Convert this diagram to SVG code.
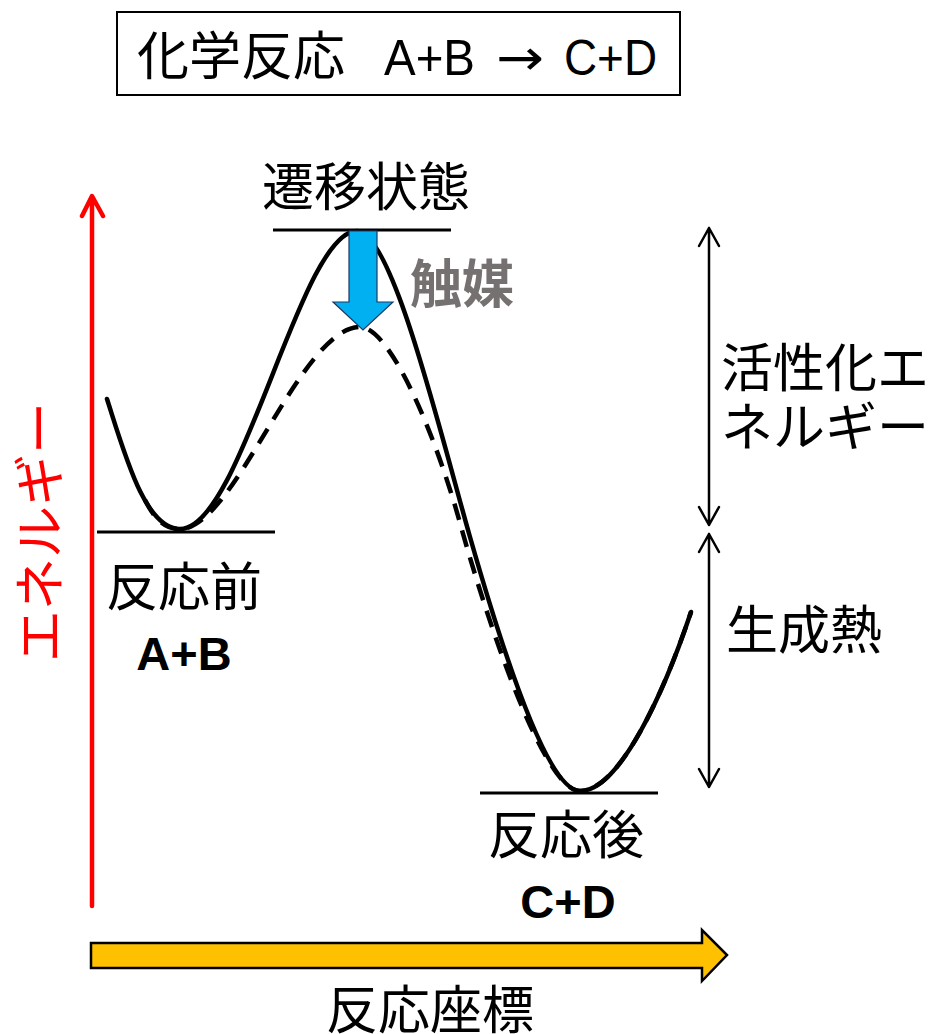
<svg xmlns="http://www.w3.org/2000/svg" width="928" height="1034" viewBox="0 0 928 1034">
<style>
.jp{font-family:"Noto Sans CJK JP","Liberation Sans",sans-serif;font-size:52px;fill:#000}
.lat{font-family:"Liberation Sans","Noto Sans CJK JP",sans-serif;fill:#000}
.arr{font-family:"DejaVu Sans","Liberation Sans",sans-serif;fill:#000}
.bold{font-family:"Liberation Sans","Noto Sans CJK JP",sans-serif;font-weight:bold;font-size:47px;fill:#000}
.level{stroke:#000;stroke-width:3;fill:none}
.curve{stroke:#000;stroke-width:4.5;fill:none;stroke-linecap:round}
.dash{stroke:#000;stroke-width:4.5;fill:none;stroke-dasharray:17 11}
.dim{stroke:#000;stroke-width:2.5;fill:none;stroke-linecap:round;stroke-linejoin:round}
</style>
<rect width="928" height="1034" fill="#fff"/>
<g id="title">
<rect x="117" y="12" width="563" height="83" fill="#fff" stroke="#000" stroke-width="2"/>
<text class="jp" y="75"><tspan x="137">化学反応</tspan><tspan class="lat" x="384" font-size="50" textLength="91" lengthAdjust="spacingAndGlyphs">A+B</tspan><tspan class="arr" x="496" font-size="50" textLength="48" lengthAdjust="spacingAndGlyphs">→</tspan><tspan class="lat" x="564" font-size="50" textLength="93" lengthAdjust="spacingAndGlyphs">C+D</tspan></text>
</g>
<g id="energy-axis">
<path d="M92,906 V197 M82,216 L92,196 L103,216" stroke="#f00" stroke-width="4.5" fill="none" stroke-linecap="round" stroke-linejoin="round"/>
<text class="jp" style="fill:#f00" font-size="51" text-anchor="middle" transform="translate(59,532) rotate(-90)">エネルギー</text>
</g>
<g id="reaction-axis">
<polygon points="91,943 702,943 702,930 727,955 702,981 702,968 91,968" fill="#FFC000" stroke="#000" stroke-width="2.5"/>
<text class="jp" x="326" y="1029">反応座標</text>
</g>
<g id="connectors">
<path class="curve" d="M107,399 C125,455 145,529 180,529 C242,529 300,231 357,231 C392,231 440,432 470,537 C495,624.5 545,791 580,791 C620,791 665,690 691,612"/>
<path class="dash" d="M145,500 C155,520 165,529 180,529 C235,529 300,327 360,327 C390,327 435,433 460,523 C490,631 545,791 580,791 C620,791 665,690 691,612"/>
</g>
<g id="reactants">
<line class="level" x1="97" y1="532" x2="275" y2="532"/>
<text class="jp" x="184" y="606" text-anchor="middle">反応前</text>
<text class="bold" x="184" y="670" text-anchor="middle">A+B</text>
</g>
<g id="transition-state">
<line class="level" x1="273" y1="230" x2="451" y2="230"/>
<text class="jp" x="366" y="206" text-anchor="middle">遷移状態</text>
</g>
<g id="products">
<line class="level" x1="480" y1="793" x2="658" y2="793"/>
<text class="jp" x="566" y="854" text-anchor="middle">反応後</text>
<text class="bold" x="568" y="918" text-anchor="middle">C+D</text>
</g>
<g id="catalyst">
<polygon points="349,231 377,231 377,302 393,302 363,330 333,302 349,302" fill="#00B0F0" stroke="#1F3864" stroke-width="1.2"/>
<text class="jp" x="410" y="303" font-weight="bold" style="fill:#767171">触媒</text>
</g>
<g id="activation-energy">
<path class="dim" d="M709,228 V525 M699,246 L709,228 L719,246 M699,507 L709,525 L719,507"/>
<text class="jp" x="721" y="387" font-size="51">活性化エ</text>
<text class="jp" x="721" y="446" font-size="51">ネルギー</text>
</g>
<g id="heat-of-formation">
<path class="dim" d="M709,534 V787 M699,552 L709,534 L719,552 M699,769 L709,787 L719,769"/>
<text class="jp" x="726" y="649">生成熱</text>
</g>
</svg>
